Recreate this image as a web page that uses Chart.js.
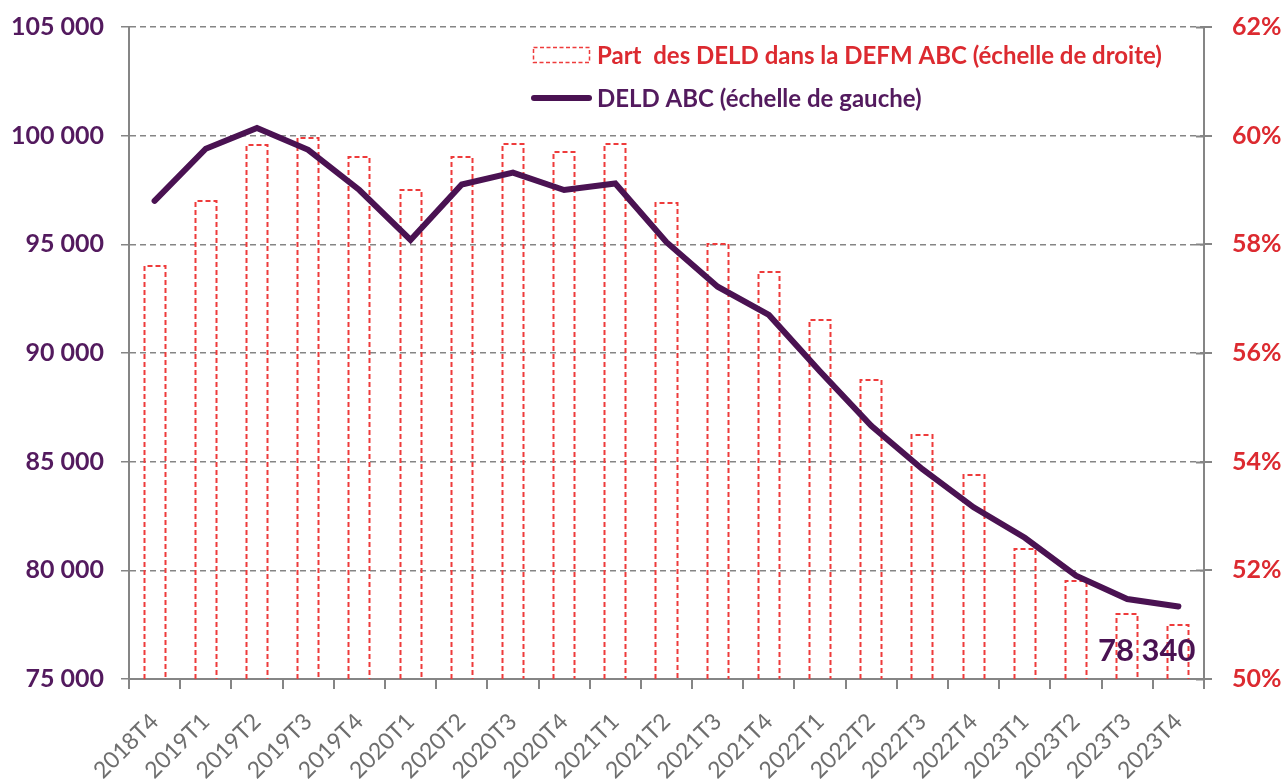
<!DOCTYPE html>
<html>
<head>
<meta charset="utf-8">
<script src="https://cdn.jsdelivr.net/npm/chart.js@4"></script>
<style>
html,body{margin:0;padding:0;background:#fff;}
#wrap{width:1285px;height:779px;position:relative;}
</style>
</head>
<body>
<div id="wrap"><canvas id="c"></canvas></div>
<script>
const categories = ['2018T4','2019T1','2019T2','2019T3','2019T4','2020T1','2020T2','2020T3','2020T4','2021T1','2021T2','2021T3','2021T4','2022T1','2022T2','2022T3','2022T4','2023T1','2023T2','2023T3','2023T4'];
const deldABC = [97000, 99400, 100350, 99350, 97500, 95200, 97750, 98300, 97500, 97800, 95100, 93050, 91750, 89150, 86650, 84650, 82900, 81500, 79750, 78680, 78340];
const partDELD = [57.6, 58.8, 59.83, 59.95, 59.6, 59.0, 59.6, 59.85, 59.7, 59.85, 58.76, 58.0, 57.5, 56.6, 55.5, 54.5, 53.75, 52.4, 51.8, 51.2, 51.0];
const leftTicks = [75000, 80000, 85000, 90000, 95000, 100000, 105000];
const rightTicks = [50, 52, 54, 56, 58, 60, 62];
const legendLabels = ['Part  des DELD dans la DEFM ABC (échelle de droite)', 'DELD ABC (échelle de gauche)'];

const PURPLE = '#4a1252';
const PURPLE_TXT = '#531a5e';
const RED = '#ee3b3b';
const RED_TXT = '#dc2a30';
const GRAY = '#858585';
const FONT = 'Lato, "Open Sans", sans-serif';

function fmtThousands(v){ return String(v).replace(/\B(?=(\d{3})+(?!\d))/g, ' '); }

const dashedBars = {
  id: 'dashedBars',
  afterDatasetDraw(chart, args) {
    if (args.index !== 0) return;
    const ctx = chart.ctx;
    const meta = chart.getDatasetMeta(0);
    const bottom = chart.chartArea.bottom;
    ctx.save();
    ctx.strokeStyle = RED;
    ctx.lineWidth = 2;
    ctx.setLineDash([5, 3]);
    meta.data.forEach(el => {
      const p = el.getProps(['x','y','base','width'], true);
      const l = Math.round(p.x - p.width/2) + 0.5;
      const r = Math.round(p.x + p.width/2) - 0.5;
      const t = Math.round(p.y);
      const b = Math.min(p.base, bottom);
      ctx.beginPath();
      ctx.moveTo(l, b);
      ctx.lineTo(l, t);
      ctx.lineTo(r, t);
      ctx.lineTo(r, b);
      ctx.stroke();
    });
    ctx.restore();
  }
};

const customLegendAndLabel = {
  id: 'customLegendAndLabel',
  afterDraw(chart) {
    const ctx = chart.ctx;
    ctx.save();
    // small tick marks crossing the right axis, as in the reference
    const yR = chart.scales.yR;
    ctx.strokeStyle = GRAY;
    ctx.lineWidth = 2;
    yR.ticks.forEach(t => {
      const y = Math.round(yR.getPixelForValue(t.value)) + 0.5;
      ctx.beginPath();
      ctx.moveTo(yR.left - 8, y);
      ctx.lineTo(yR.left, y);
      ctx.stroke();
    });
    // legend item 1: dashed box
    ctx.strokeStyle = RED;
    ctx.lineWidth = 1.5;
    ctx.setLineDash([4, 2.5]);
    ctx.strokeRect(533.5, 47.5, 56, 15);
    ctx.setLineDash([]);
    ctx.font = 'bold 24px ' + FONT;
    ctx.textBaseline = 'alphabetic';
    ctx.textAlign = 'left';
    ctx.fillStyle = RED_TXT;
    ctx.fillText(legendLabels[0], 597, 64);
    // legend item 2: line
    ctx.strokeStyle = PURPLE;
    ctx.lineWidth = 6;
    ctx.lineCap = 'round';
    ctx.beginPath();
    ctx.moveTo(534, 98);
    ctx.lineTo(589, 98);
    ctx.stroke();
    ctx.fillStyle = PURPLE_TXT;
    ctx.fillText(legendLabels[1], 597, 107);
    // value label on last point
    const meta = chart.getDatasetMeta(1);
    const last = meta.data[meta.data.length - 1];
    ctx.font = 'bold 31px ' + FONT;
    ctx.textAlign = 'right';
    ctx.fillStyle = PURPLE;
    ctx.fillText(fmtThousands(deldABC[deldABC.length - 1]), last.x + 17, last.y + 55);
    ctx.restore();
  }
};

new Chart(document.getElementById('c'), {
  type: 'bar',
  data: {
    labels: categories,
    datasets: [
      {
        type: 'bar',
        label: legendLabels[0],
        data: partDELD,
        yAxisID: 'yR',
        backgroundColor: 'rgba(0,0,0,0)',
        borderWidth: 0,
        barPercentage: 0.43,
        categoryPercentage: 1.0,
        order: 2
      },
      {
        type: 'line',
        label: legendLabels[1],
        data: deldABC,
        yAxisID: 'yL',
        borderColor: PURPLE,
        backgroundColor: PURPLE,
        borderWidth: 6,
        pointRadius: 0,
        tension: 0,
        borderCapStyle: 'round',
        borderJoinStyle: 'miter',
        order: 1
      }
    ]
  },
  options: {
    responsive: true,
    maintainAspectRatio: false,
    animation: false,
    layout: { padding: { top: 27, left: 0, right: 0, bottom: 0 } },
    plugins: {
      legend: { display: false },
      tooltip: { enabled: false }
    },
    scales: {
      x: {
        offset: true,
        grid: { offset: true, drawOnChartArea: false, drawTicks: true, tickLength: 10, color: GRAY, lineWidth: 2 },
        border: { display: true, color: GRAY, width: 2 },
        ticks: {
          minRotation: 45, maxRotation: 45, autoSkip: false,
          color: '#6e6e6e', padding: 19,
          font: { family: FONT, size: 23 }
        },
        afterFit(scale) { scale.height = 100; }
      },
      yL: {
        position: 'left',
        min: 75000, max: 105000,
        afterBuildTicks(scale) { scale.ticks = leftTicks.map(v => ({ value: v })); },
        grid: { color: GRAY, lineWidth: 1.5, tickLength: 8, drawTicks: true },
        border: { display: true, color: GRAY, width: 2, dash: [6, 4] },
        ticks: {
          color: PURPLE_TXT, padding: 17,
          font: { family: FONT, size: 25, weight: 'bold' },
          callback: v => fmtThousands(v)
        },
        afterFit(scale) { scale.width = 129; scale.paddingTop = 10; scale.paddingBottom = 10; }
      },
      yR: {
        position: 'right',
        min: 50, max: 62,
        afterBuildTicks(scale) { scale.ticks = rightTicks.map(v => ({ value: v })); },
        grid: { drawOnChartArea: false, drawTicks: true, tickLength: 8, color: GRAY, lineWidth: 2 },
        border: { display: true, color: GRAY, width: 2 },
        ticks: {
          color: RED_TXT, padding: 20,
          font: { family: FONT, size: 25, weight: 'bold' },
          callback: v => v + '%'
        },
        afterFit(scale) { scale.width = 81; scale.paddingTop = 10; scale.paddingBottom = 10; }
      }
    }
  },
  plugins: [dashedBars, customLegendAndLabel]
});
</script>
</body>
</html>
